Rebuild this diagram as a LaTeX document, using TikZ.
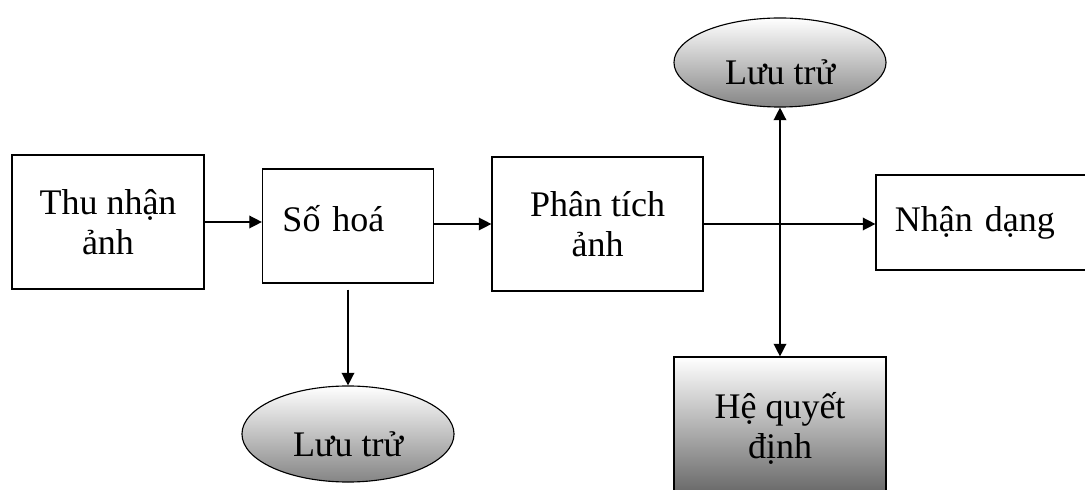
\documentclass[tikz,border=0pt]{standalone}
\usepackage{fontspec}
\setmainfont{Liberation Serif}
\usepackage{tikz}
\usetikzlibrary{shapes,arrows.meta}

\begin{document}
\begin{tikzpicture}[x=0.025cm, y=-0.025cm,
    font=\fontsize{25.6}{28.5}\selectfont,
    block/.style={draw, line width=0.8pt, inner sep=0pt, align=center},
    store/.style={ellipse, draw, line width=0.8pt, inner sep=0pt,
      top color=white, middle color=black!12, bottom color=black!48,
      minimum width=5.3cm, text height=1.1cm, text depth=0cm},
    tip/.style={Triangle[length=9pt,width=9pt]},
    flow/.style={line width=1pt, -{Triangle[length=9pt,width=9pt]}}]
    % page size
    \useasboundingbox (0,0) rectangle (1085,490);

    % blocks
    \node[block, minimum width=4.8cm, minimum height=3.35cm] (thu) at (108,222) {Thu nhận\\ảnh};
    \node[block, minimum width=4.275cm, minimum height=2.85cm, inner xsep=0.5cm,
          text width=3.275cm, align=left, text depth=0.4cm] (so) at (348,226) {Số hoá};
    \node[block, minimum width=5.275cm, minimum height=3.35cm] (phan) at (597.5,224) {Phân tích\\ảnh};
    \node[block, minimum width=5.475cm, minimum height=2.375cm, inner xsep=0.475cm,
          text width=4.525cm, align=left] (nhan) at (985.5,222.5) {Nhận dạng};
    \node[block, minimum width=5.3cm, minimum height=3.575cm,
          top color=white, middle color=black!20, bottom color=black!62] (he) at (780,428.5) {Hệ quyết\\định};

    % storage
    \node[store, minimum height=2.225cm] (luutren) at (780,62.5) {Lưu trử};
    \node[store, minimum height=2.4cm] (luuduoi) at (348,434) {Lưu trử};

    % arrows
    \draw[flow] (thu.east) -- (thu.east -| so.west);
    \draw[flow] (so.east |- phan.west) -- (phan.west);
    \draw[flow] (phan.east) -- (phan.east -| nhan.west);
    \draw[flow, shorten <=0.15cm] (so.south) -- (luuduoi.north);
    \draw[line width=1pt, {Triangle[length=9pt,width=9pt]}-{Triangle[length=9pt,width=9pt]}] (luutren.south) -- (he.north);
\end{tikzpicture}
\end{document}
